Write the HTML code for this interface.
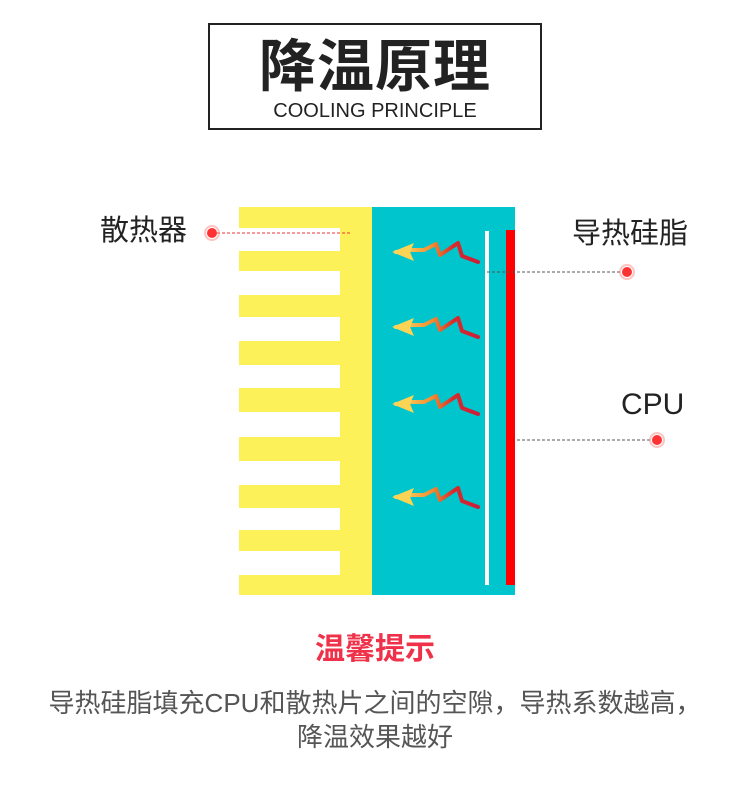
<!DOCTYPE html>
<html><head><meta charset="utf-8"><style>
body{margin:0;width:750px;height:792px;background:#fff;position:relative;overflow:hidden;font-family:"Liberation Sans","Noto Sans CJK SC",sans-serif;}
.a{position:absolute}
.t{white-space:nowrap;color:#222}
</style></head><body>
<div class="a" style="left:208px;top:23px;width:330px;height:103px;border:2px solid #222"></div>
<div class="a t" style="left:208px;top:28px;width:334px;text-align:center;font-size:57px;font-weight:bold;line-height:68px;letter-spacing:1px;font-family:'Noto Sans CJK SC',sans-serif">降温原理</div>
<div class="a t" style="left:208px;top:98px;width:334px;text-align:center;font-size:20px;line-height:26px">COOLING PRINCIPLE</div>

<svg class="a" style="left:0;top:0" width="750" height="792">
<rect x="239" y="207" width="133" height="388" fill="#fdf15a"/>
<g fill="#fff">
<rect x="239" y="228" width="101" height="23"/><rect x="239" y="271" width="101" height="24"/>
<rect x="239" y="317" width="101" height="24"/><rect x="239" y="365" width="101" height="23"/>
<rect x="239" y="412" width="101" height="25"/><rect x="239" y="461" width="101" height="24"/>
<rect x="239" y="508" width="101" height="22"/><rect x="239" y="551" width="101" height="24"/>
</g>
<rect x="372" y="207" width="143" height="388" fill="#00c5cc"/>
<rect x="485" y="231" width="4" height="354" fill="#fff"/>
<rect x="506" y="230" width="9" height="355" fill="#f00"/>
<defs><linearGradient id="g" x1="0" x2="1"><stop offset="0" stop-color="#fce36a"/><stop offset="0.45" stop-color="#f08a30"/><stop offset="0.7" stop-color="#d82a2a"/><stop offset="1" stop-color="#c8203a"/></linearGradient></defs>
<g id="ar">
<path d="M396 252 L412 250 L424 250 L436 244 L440 255 L458 243 L462 256 L478 262" fill="none" stroke="url(#g)" stroke-width="4" stroke-linejoin="round" stroke-linecap="round"/>
<path d="M392 252 L414 243 L410 252 L414 261 Z" fill="#fcd455"/>
</g>
<use href="#ar" y="75"/><use href="#ar" y="152"/><use href="#ar" y="245"/>
<g stroke="#e33" stroke-width="1" stroke-dasharray="3,2" fill="none">
<line x1="212" y1="233" x2="352" y2="233"/>
</g>
<g stroke="#555" stroke-width="1" stroke-dasharray="3,2">
<line x1="487" y1="272" x2="627" y2="272"/>
<line x1="517" y1="440" x2="657" y2="440"/>
</g>
<g fill="#f33"><circle cx="212" cy="233" r="5"/><circle cx="627" cy="272" r="5"/><circle cx="657" cy="440" r="5"/></g>
<g fill="none" stroke="#f88" stroke-width="2" opacity="0.5"><circle cx="212" cy="233" r="7"/><circle cx="627" cy="272" r="7"/><circle cx="657" cy="440" r="7"/></g>
</svg>

<div class="a t" style="left:100px;top:213px;font-size:29px;line-height:36px">散热器</div>
<div class="a t" style="left:572px;top:216px;font-size:29px;line-height:36px">导热硅脂</div>
<div class="a t" style="left:621px;top:387px;font-size:30px;line-height:36px">CPU</div>
<div class="a t" style="left:0;top:631px;width:750px;text-align:center;font-size:30px;line-height:38px;color:#f0314a;font-weight:bold">温馨提示</div>
<div class="a t" style="left:0;top:686px;width:750px;text-align:center;font-size:26px;line-height:34px;color:#555">导热硅脂填充CPU和散热片之间的空隙，导热系数越高，</div>
<div class="a t" style="left:0;top:720px;width:750px;text-align:center;font-size:26px;line-height:34px;color:#555">降温效果越好</div>
</body></html>
